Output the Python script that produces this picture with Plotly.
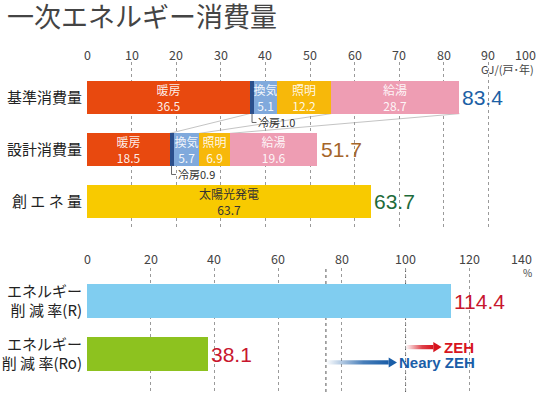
import itertools
import plotly.graph_objects as go

# ---------------- data ----------------
top_categories = ["基準消費量", "設計消費量", "創 エ ネ 量"]
components = ["暖房", "冷房", "換気", "照明", "給湯"]
base_values = [36.5, 1.0, 5.1, 12.2, 28.7]
design_values = [18.5, 0.9, 5.7, 6.9, 19.6]
solar_label = "太陽光発電"
solar_value = 63.7
totals = [83.4, 51.7, 63.7]
top_ticks = [0, 10, 20, 30, 40, 50, 60, 70, 80, 90, 100]
top_unit = "GJ/(戸･年)"

rate_categories = ["エネルギー<br>削 減 率(R)", "エネルギー<br>削 減 率(Ro)"]
rate_values = [114.4, 38.1]
bottom_ticks = [0, 20, 40, 60, 80, 100, 120, 140]
bottom_unit = "%"
nearly_zeh_level = 75
zeh_level = 100

# ---------------- styles ----------------
FONT = "Noto Sans CJK JP"
comp_colors = ["#E8490F", "#2B4F8C", "#80A9DC", "#F7B80A", "#EE9DB3"]
solar_color = "#F8CA00"
rate_colors = ["#80CDF0", "#8DC21F"]
total_colors = ["#1C5FA5", "#A5652A", "#1E6B3A"]
rate_label_color = "#C8162E"
seg_text = "rgba(255,255,255,0.92)"
BW_TOP = 0.62
BW_BOT = 0.64

fig = go.Figure()
annotations = []
shapes = []

# stacked consumption bars
for i, name in enumerate(components):
    vals = [base_values[i], design_values[i]]
    texts = ["" if name == "冷房" else f"{name}<br>{v}" for v in vals]
    fig.add_trace(go.Bar(
        y=[0, 1], x=vals, orientation="h", width=BW_TOP,
        marker=dict(color=comp_colors[i], line=dict(width=0)),
        text=texts, textposition="inside", insidetextanchor="middle",
        textangle=0, constraintext="none",
        textfont=dict(family=FONT, size=12, color=seg_text),
        xaxis="x", yaxis="y", showlegend=False, hoverinfo="skip",
    ))

fig.add_trace(go.Bar(
    y=[2], x=[solar_value], orientation="h", width=BW_TOP,
    marker=dict(color=solar_color, line=dict(width=0)),
    text=[f"{solar_label}<br>{solar_value}"], textposition="inside",
    insidetextanchor="middle", textangle=0, constraintext="none",
    textfont=dict(family=FONT, size=12, color="#333333"),
    xaxis="x", yaxis="y", showlegend=False, hoverinfo="skip",
))

# reduction-rate bars
fig.add_trace(go.Bar(
    y=[0, 1], x=rate_values, orientation="h", width=BW_BOT,
    marker=dict(color=rate_colors, line=dict(width=0)),
    xaxis="x2", yaxis="y2", showlegend=False, hoverinfo="skip",
))


# gradient arrows (ZEH / Nearly ZEH)
def add_arrow(x0, x1, yc, rgb, label):
    head = 2.6
    sh = 0.04
    hh = 0.095
    fig.add_trace(go.Scatter(
        x=[x0, x1 - head, x1 - head, x0, x0],
        y=[yc - sh, yc - sh, yc + sh, yc + sh, yc - sh],
        fill="toself", mode="none",
        fillgradient=dict(type="horizontal",
                          colorscale=[[0, f"rgba({rgb},0)"], [0.6, f"rgba({rgb},0.8)"],
                                      [1, f"rgba({rgb},1)"]]),
        xaxis="x2", yaxis="y2", showlegend=False, hoverinfo="skip",
    ))
    fig.add_trace(go.Scatter(
        x=[x1 - head, x1, x1 - head, x1 - head],
        y=[yc - hh, yc, yc + hh, yc - hh],
        fill="toself", mode="none", fillcolor=f"rgb({rgb})",
        xaxis="x2", yaxis="y2", showlegend=False, hoverinfo="skip",
    ))
    annotations.append(dict(x=x1, y=yc, xref="x2", yref="y2", text=f"<b>{label}</b>",
                            showarrow=False, xanchor="left", yanchor="middle",
                            font=dict(family="Liberation Sans", size=15, color=f"rgb({rgb})")))


add_arrow(zeh_level, zeh_level + 11.3, 0.87, "215,20,30", "ZEH")
add_arrow(nearly_zeh_level, nearly_zeh_level + 22.3, 1.16, "26,94,168", "Neary ZEH")

# total labels
for i, t in enumerate(totals):
    annotations.append(dict(x=t, y=i, xref="x", yref="y", text=f"{t}", showarrow=False,
                            xanchor="left", yanchor="middle", xshift=1,
                            font=dict(family="Liberation Sans", size=21, color=total_colors[i])))
for i, v in enumerate(rate_values):
    annotations.append(dict(x=v, y=i, xref="x2", yref="y2", text=f"{v}", showarrow=False,
                            xanchor="left", yanchor="middle", xshift=1,
                            font=dict(family="Liberation Sans", size=21, color=rate_label_color)))

# cooling call-outs
for row, vals in enumerate([base_values, design_values]):
    xc = vals[0] + vals[1] / 2
    y0 = row + BW_TOP / 2
    y1 = y0 + 0.17
    shapes.append(dict(type="line", xref="x", yref="y", x0=xc, x1=xc, y0=y0, y1=y1,
                       line=dict(color="#666", width=1)))
    shapes.append(dict(type="line", xref="x", yref="y", x0=xc, x1=xc + 1.0, y0=y1, y1=y1,
                       line=dict(color="#666", width=1)))
    annotations.append(dict(x=xc + 1.0, y=y1, xref="x", yref="y", text=f"冷房{vals[1]}",
                            showarrow=False, xanchor="left", yanchor="middle",
                            font=dict(family=FONT, size=11, color="#333")))

# connector lines between bar 1 and bar 2
cum_b = list(itertools.accumulate(base_values))
cum_d = list(itertools.accumulate(design_values))
for a, b in [(cum_b[0], cum_d[0]), (cum_b[3], cum_d[2]), (cum_b[4], cum_d[3])]:
    shapes.append(dict(type="line", xref="x", yref="y", x0=a, y0=BW_TOP / 2, x1=b, y1=1 - BW_TOP / 2,
                       line=dict(color="#c4c4c4", width=1), layer="below"))

# darker reference lines at 75% and 100%
for lv in [nearly_zeh_level, zeh_level]:
    shapes.append(dict(type="line", xref="x2", yref="y2 domain", x0=lv, x1=lv, y0=0, y1=1,
                       line=dict(color="#555", width=1, dash="dot"), layer="below"))

# tick labels
for i, t in enumerate(top_ticks):
    annotations.append(dict(x=t, y=1 - 54 / 399, xref="x", yref="paper", text=str(t), showarrow=False,
                            xanchor="center", yanchor="middle",
                            xshift=(-8 if i == len(top_ticks) - 1 else 0),
                            font=dict(family=FONT, size=12.5, color="#444")))
for i, t in enumerate(bottom_ticks):
    annotations.append(dict(x=t, y=1 - 258 / 399, xref="x2", yref="paper", text=str(t), showarrow=False,
                            xanchor="center", yanchor="middle",
                            xshift=(-12 if i == len(bottom_ticks) - 1 else 0),
                            font=dict(family=FONT, size=12.5, color="#444")))
annotations.append(dict(x=1, y=1 - 69 / 399, xref="paper", yref="paper", text=top_unit, showarrow=False,
                        xanchor="right", yanchor="middle", xshift=3,
                        font=dict(family=FONT, size=11, color="#444")))
annotations.append(dict(x=1, y=1 - 272 / 399, xref="paper", yref="paper", text=bottom_unit, showarrow=False,
                        xanchor="right", yanchor="middle", xshift=1,
                        font=dict(family=FONT, size=10, color="#444")))

grid = dict(showgrid=True, griddash="dot", gridcolor="#9a9a9a", gridwidth=1,
            zeroline=False, showline=False, showticklabels=False, ticks="", fixedrange=True)

fig.update_layout(
    width=542, height=399,
    margin=dict(l=87, r=9, t=0, b=0),
    paper_bgcolor="white", plot_bgcolor="white",
    barmode="stack", bargap=0,
    title=dict(text="一次エネルギー消費量", x=7 / 542, xanchor="left", xref="container",
               y=1 - 18 / 399, yanchor="middle", yref="container",
               font=dict(family=FONT, size=27, color="#444")),
    xaxis=dict(domain=[0, 1], range=[0, 100], anchor="y", side="top", tickvals=top_ticks, **grid),
    yaxis=dict(domain=[1 - 227 / 399, 1 - 62 / 399], range=[2.49, -0.683], anchor="x",
               tickvals=[0, 1, 2], ticktext=top_categories, showgrid=False, zeroline=False,
               showline=False, ticks="", ticklabelstandoff=4, fixedrange=True,
               tickfont=dict(family=FONT, size=15, color="#222")),
    xaxis2=dict(domain=[0, 1], range=[0, 140], anchor="y2", side="top", tickvals=bottom_ticks, **grid),
    yaxis2=dict(domain=[1 - 392 / 399, 1 - 268 / 399], range=[1.717, -0.623], anchor="x2",
                tickvals=[0, 1], ticktext=rate_categories, showgrid=False, zeroline=False,
                showline=False, ticks="", ticklabelstandoff=4, fixedrange=True,
                tickfont=dict(family=FONT, size=15, color="#222")),
    annotations=annotations, shapes=shapes,
)

fig.write_html("out.html", config={"displayModeBar": False},
               post_script="document.body.style.margin='0';document.body.style.padding='0';")
